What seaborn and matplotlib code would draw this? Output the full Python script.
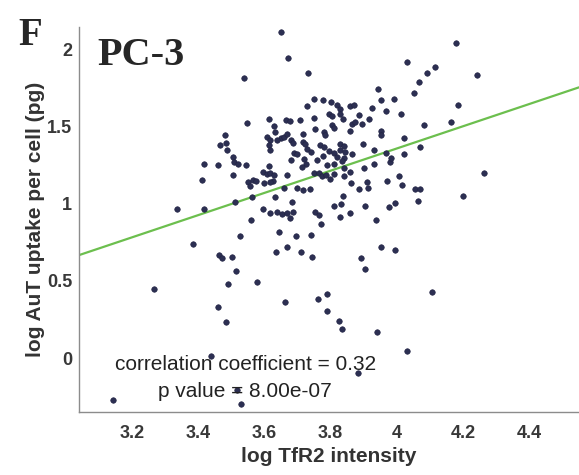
import numpy as np
import pandas as pd
import matplotlib
matplotlib.use("Agg")
import matplotlib.pyplot as plt
import seaborn as sns

# log TfR2 intensity (x) and log AuT uptake per cell (y)
tfr2 = [
    3.651, 3.671, 3.537, 3.733, 4.179, 4.032, 4.116, 4.091, 4.242, 4.066,
    4.053, 3.943, 3.953, 3.990, 3.751, 3.777, 3.729, 3.802, 3.819, 3.829,
    3.859, 3.869, 3.925, 3.968, 4.013, 4.185, 3.794, 3.804, 3.829, 3.837,
    3.750, 3.887, 3.917, 3.865, 3.875, 3.895, 3.804, 3.809, 3.781, 3.784,
    3.754, 3.715, 3.707, 3.666, 3.678, 3.859, 3.952, 3.953, 4.081, 4.162,
    3.547, 3.613, 3.628, 3.633, 3.650, 3.660, 3.668, 3.608, 3.616, 3.613,
    3.618, 3.638, 3.680, 3.686, 3.482, 3.465, 3.485, 3.488, 3.717, 3.723,
    3.767, 3.779, 3.795, 3.730, 3.741, 3.829, 3.839, 3.898, 4.023, 4.071,
    3.688, 3.698, 3.809, 3.827, 3.844, 3.865, 3.930, 3.968, 4.020, 3.681,
    3.720, 3.760, 3.778, 3.819, 3.841, 3.725, 3.712, 3.809, 3.789, 3.834,
    3.839, 3.980, 3.983, 3.932, 3.900, 3.418, 3.461, 3.504, 3.507, 3.521,
    3.544, 3.613, 3.597, 3.608, 3.618, 3.628, 3.627, 3.668, 3.505, 3.751,
    3.764, 3.774, 3.785, 3.797, 3.809, 3.841, 3.857, 3.970, 3.910, 3.862,
    4.007, 4.016, 3.550, 3.565, 3.575, 3.556, 3.599, 3.616, 3.658, 3.698,
    3.717, 3.738, 3.410, 3.887, 3.912, 4.056, 4.071, 4.262, 3.562, 3.633,
    3.512, 3.836, 4.199, 3.683, 3.809, 3.832, 3.904, 3.995, 3.975, 4.063,
    3.827, 3.857, 3.687, 3.754, 3.764, 3.771, 3.596, 3.618, 3.638, 3.653,
    3.668, 3.678, 3.336, 3.418, 3.938, 3.559, 3.525, 3.645, 3.696, 3.741,
    3.385, 3.462, 3.472, 3.502, 3.514, 3.265, 3.489, 3.579, 3.636, 3.669,
    3.711, 3.745, 3.892, 3.905, 3.952, 3.995, 4.106, 3.761, 3.789, 3.459,
    3.484, 3.661, 3.789, 3.824, 3.834, 3.940, 4.031, 3.884, 3.439, 3.144,
    3.529, 3.517,
]
aut = [
    2.114, 1.946, 1.814, 1.851, 2.043, 1.921, 1.887, 1.851, 1.838, 1.790,
    1.719, 1.748, 1.675, 1.683, 1.683, 1.672, 1.638, 1.661, 1.639, 1.618,
    1.633, 1.644, 1.622, 1.603, 1.586, 1.639, 1.586, 1.570, 1.586, 1.553,
    1.557, 1.575, 1.553, 1.517, 1.531, 1.521, 1.510, 1.493, 1.467, 1.449,
    1.489, 1.452, 1.542, 1.542, 1.536, 1.471, 1.471, 1.445, 1.510, 1.531,
    1.528, 1.548, 1.504, 1.470, 1.430, 1.434, 1.456, 1.434, 1.413, 1.381,
    1.348, 1.413, 1.418, 1.396, 1.445, 1.381, 1.396, 1.353, 1.402, 1.387,
    1.381, 1.370, 1.345, 1.359, 1.337, 1.387, 1.376, 1.392, 1.426, 1.370,
    1.331, 1.327, 1.331, 1.353, 1.337, 1.327, 1.348, 1.333, 1.327, 1.284,
    1.290, 1.288, 1.313, 1.305, 1.295, 1.262, 1.238, 1.262, 1.251, 1.279,
    1.230, 1.272, 1.295, 1.262, 1.234, 1.258, 1.254, 1.305, 1.271, 1.256,
    1.251, 1.245, 1.208, 1.197, 1.201, 1.186, 1.150, 1.186, 1.191, 1.203,
    1.199, 1.183, 1.186, 1.165, 1.197, 1.182, 1.204, 1.148, 1.143, 1.139,
    1.182, 1.126, 1.143, 1.154, 1.151, 1.115, 1.138, 1.141, 1.102, 1.102,
    1.089, 1.100, 1.156, 1.094, 1.104, 1.096, 1.096, 1.201, 1.046, 1.046,
    1.010, 1.052, 1.051, 1.014, 0.989, 0.997, 0.984, 1.003, 0.977, 1.016,
    0.915, 0.939, 0.949, 0.949, 0.928, 0.873, 0.964, 0.942, 0.949, 0.934,
    0.939, 0.906, 0.964, 0.964, 0.895, 0.895, 0.792, 0.819, 0.792, 0.798,
    0.738, 0.669, 0.646, 0.653, 0.565, 0.447, 0.483, 0.491, 0.685, 0.719,
    0.690, 0.654, 0.647, 0.581, 0.722, 0.701, 0.426, 0.382, 0.414, 0.330,
    0.237, 0.364, 0.308, 0.242, 0.188, 0.172, 0.043, -0.097, 0.011, -0.272,
    -0.296, -0.210,
]

# least-squares line shown in the chart
fit_slope = 0.721
fit_intercept = -1.524
x_limits = [3.04, 4.55]

x_ticks = [3.2, 3.4, 3.6, 3.8, 4.0, 4.2, 4.4]
x_tick_labels = ["3.2", "3.4", "3.6", "3.8", "4", "4.2", "4.4"]
y_ticks = [0, 0.5, 1, 1.5, 2]
y_tick_labels = ["0", "0.5", "1", "1.5", "2"]

corr_text = "correlation coefficient = 0.32"
p_text = "p value = 8.00e-07"

df = pd.DataFrame({"tfr2": tfr2, "aut": aut})
line_df = pd.DataFrame({"x": x_limits,
                        "y": [fit_slope * v + fit_intercept for v in x_limits]})

sns.set_style("white")
plt.rcParams["font.family"] = ["Liberation Sans", "DejaVu Sans"]

fig = plt.figure(figsize=(5.79, 4.75), dpi=100)
ax = fig.add_axes([79 / 579, 63 / 475, 1 - 79 / 579, (412 - 26.7) / 475])

sns.lineplot(data=line_df, x="x", y="y", ax=ax, color="#6cbf4e",
             linewidth=1.6, zorder=2)
sns.scatterplot(data=df, x="tfr2", y="aut", ax=ax, color="#2c2f52",
                edgecolor="#1e2040", linewidth=0.4, s=16, zorder=3)

ax.set_xlim(x_limits)
ax.set_ylim(-0.35, 2.15)
ax.set_xticks(x_ticks)
ax.set_xticklabels(x_tick_labels)
ax.set_yticks(y_ticks)
ax.set_yticklabels(y_tick_labels)

for s in ["top", "right"]:
    ax.spines[s].set_visible(False)
for s in ["left", "bottom"]:
    ax.spines[s].set_color("#8c8c8c")
    ax.spines[s].set_linewidth(1.0)

ax.tick_params(axis="both", direction="in", length=4, width=1,
               color="#8c8c8c", labelsize=13, labelcolor="#383838")
ax.tick_params(axis="x", pad=9)
ax.tick_params(axis="y", pad=5)
for lab in ax.get_xticklabels() + ax.get_yticklabels():
    lab.set_fontweight("bold")

ax.set_xlabel("log TfR2 intensity", fontsize=15, fontweight="bold",
              color="#333333", labelpad=4)
ax.set_ylabel("log AuT uptake per cell (pg)", fontsize=15, fontweight="bold",
              color="#333333", labelpad=1)

ax.text(3.542, -0.043, corr_text, ha="center", va="center", fontsize=15,
        color="#222222")
ax.text(3.542, -0.218, p_text, ha="center", va="center", fontsize=15,
        color="#222222")

fig.text(18 / 579, 1 - 45 / 475, "F", ha="left", va="baseline",
         fontsize=28, fontweight="bold", family=["Liberation Serif"])
fig.text(97 / 579, 1 - 65 / 475, "PC-3", ha="left", va="baseline",
         fontsize=29, fontweight="bold", family=["Liberation Serif"])

fig.savefig("out.png", dpi=100)
